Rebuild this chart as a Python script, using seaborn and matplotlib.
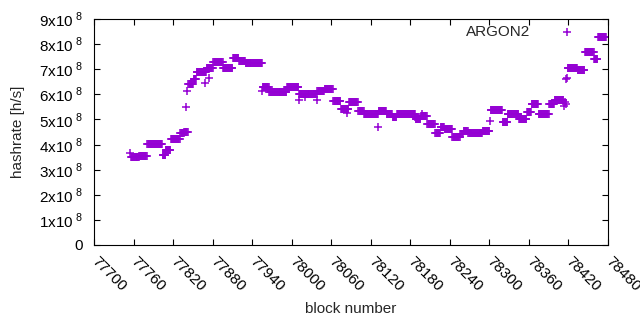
import numpy as np
import pandas as pd
import seaborn as sns
import matplotlib.pyplot as plt

# hashrate plateaus: first block, last block, rate in 1e8 h/s
run_first = [77756, 77769, 77781, 77804, 77809, 77817, 77831, 77837, 77843, 77851,
             77856, 77871, 77881, 77896, 77911, 77920, 77930, 77956, 77966, 77993,
             78011, 78039, 78050, 78063, 78075, 78087, 78101, 78110, 78132, 78144,
             78153, 78160, 78188, 78196, 78206, 78218, 78226, 78232, 78244, 78256,
             78261, 78268, 78290, 78302, 78320, 78328, 78345, 78357, 78364, 78375,
             78391, 78399, 78419, 78434, 78445, 78459, 78465]
run_last = [77768, 77780, 77803, 77808, 77816, 77830, 77836, 77842, 77850, 77855,
            77870, 77880, 77895, 77910, 77919, 77929, 77955, 77965, 77992, 78010,
            78038, 78049, 78062, 78074, 78086, 78100, 78109, 78131, 78143, 78152,
            78159, 78187, 78195, 78205, 78217, 78225, 78231, 78243, 78255, 78260,
            78267, 78289, 78300, 78319, 78327, 78344, 78356, 78363, 78374, 78390,
            78398, 78412, 78433, 78444, 78458, 78464, 78477]
run_rate = [3.52, 3.55, 4.02, 3.60, 3.80, 4.22, 4.45, 4.50, 6.40, 6.60,
            6.90, 7.05, 7.30, 7.05, 7.45, 7.33, 7.25, 6.30, 6.10, 6.30,
            6.00, 6.15, 6.20, 5.75, 5.40, 5.70, 5.35, 5.20, 5.35, 5.20,
            5.10, 5.20, 5.00, 5.15, 4.80, 4.45, 4.70, 4.60, 4.30, 4.42,
            4.55, 4.48, 4.52, 5.37, 4.88, 5.20, 5.00, 5.30, 5.60, 5.20,
            5.60, 5.77, 7.05, 6.97, 7.70, 7.40, 8.30]

# single blocks off the plateaus
odd_block = [77755, 77840, 77841, 77869, 77875, 77955, 78011, 78020, 78038, 78084,
             78131, 78187, 78197, 78301, 78413, 78414, 78416, 78417, 78418]
odd_rate = [3.65, 5.50, 6.15, 6.45, 6.65, 6.15, 5.78, 5.90, 5.78, 5.25,
            4.70, 5.10, 5.20, 4.95, 5.55, 5.70, 5.60, 6.60, 6.65]

x_ticks = list(range(77700, 78481, 60))
y_ticks = [i * 1e8 for i in range(10)]
y_labels = ['0'] + [r'$\mathregular{%dx10}^{\ \mathregular{8}}$' % i for i in range(1, 10)]

blocks = np.concatenate([np.arange(a, b + 1) for a, b in zip(run_first, run_last)] + [odd_block])
rates = np.concatenate([np.full(b - a + 1, r) for a, b, r in zip(run_first, run_last, run_rate)] + [odd_rate])
df = pd.DataFrame({'block': blocks, 'hashrate': rates * 1e8})

sns.set_style('ticks')
plt.rcParams['font.family'] = ['Liberation Sans', 'DejaVu Sans']
plt.rcParams['mathtext.fontset'] = 'custom'
plt.rcParams['mathtext.rm'] = 'Liberation Sans'
plt.rcParams['font.size'] = 11

fig = plt.figure(figsize=(6.4, 3.3), dpi=100)
ax = fig.add_axes([94 / 640, 1 - 245 / 330, 514 / 640, 226 / 330])

sns.scatterplot(data=df, x='block', y='hashrate', marker='+', s=30, linewidth=1.1,
                color='#9400d3', label='ARGON2', ax=ax)

ax.set_xlim(77700, 78480)
ax.set_ylim(0, 9e8)
ax.set_xticks(x_ticks)
ax.set_xticklabels([str(t) for t in x_ticks], rotation=-45, ha='left', va='center',
                   rotation_mode='anchor')
ax.set_yticks(y_ticks)
ax.set_yticklabels(y_labels)
ax.tick_params(direction='in', top=True, right=True, length=4, width=0.8,
               colors='black', labelsize=11)
ax.tick_params(axis='x', pad=10)
ax.tick_params(axis='y', pad=8)
for s in ax.spines.values():
    s.set_color('black')
    s.set_linewidth(0.8)

ax.set_xlabel('block number', fontsize=11, labelpad=6)
ax.set_ylabel('hashrate [h/s]', fontsize=11, labelpad=10)

ax.legend(loc='center right', bbox_to_anchor=(575 / 640, 1 - 32 / 330),
          bbox_transform=fig.transFigure, frameon=False, markerfirst=False,
          handlelength=1.0, handletextpad=1.9, borderpad=0, borderaxespad=0,
          scatterpoints=1, fontsize=11)

fig.savefig('out.png', dpi=100)
